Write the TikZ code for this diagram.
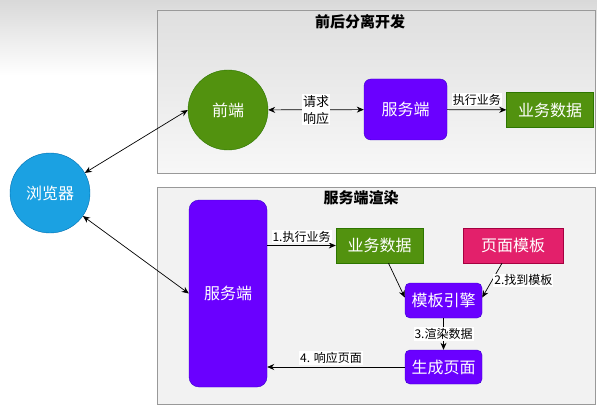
\documentclass[tikz,border=0pt]{standalone}
\usepackage{fontspec}
\setmainfont{Noto Sans CJK SC}
\usetikzlibrary{arrows.meta,positioning,calc}
\definecolor{srvpurple}{HTML}{6A00FF}
\definecolor{srvline}{HTML}{3700CC}
\definecolor{datagreen}{HTML}{52920F}
\definecolor{dataline}{HTML}{2D7600}
\definecolor{webblue}{HTML}{1BA1E2}
\definecolor{webline}{HTML}{006EAF}
\definecolor{tplpink}{HTML}{E3206B}
\definecolor{tplline}{HTML}{A50040}

\begin{document}
\begin{tikzpicture}[x=1pt,y=-1pt,
  panel/.style={draw=gray!80, line width=0.8pt, fill=gray!10},
  title/.style={font=\fontsize{15}{17}\selectfont\bfseries},
  txt/.style={text=white, font=\fontsize{16}{18}\selectfont, inner sep=0pt},
  circ/.style={txt, circle, minimum size=80pt},
  srv/.style={txt, fill=srvpurple, draw=srvline, rounded corners=7pt},
  data/.style={txt, fill=datagreen, draw=dataline, minimum width=87pt, minimum height=35pt},
  lbl/.style={fill=white, inner sep=1pt, font=\fontsize{12}{14}\selectfont, align=center},
  link/.style={line width=0.7pt, -{Stealth[length=7pt,width=6pt]}},
  both/.style={link, {Stealth[length=7pt,width=6pt]}-{Stealth[length=7pt,width=6pt]}}]
\useasboundingbox (0,0) rectangle (597,409);
\shade[top color=gray!30, bottom color=white] (0,0) rectangle (597,75);

\node[panel, top color=gray!25, bottom color=gray!6, minimum width=438pt, minimum height=163pt] (sepbox) at (376,91.5) {};
\node[title] (septitle) at (360,22) {前后分离开发};
\node[circ, fill=datagreen, draw=dataline] (front) at (228,110) {前端};
\node[srv, minimum width=83pt, minimum height=61pt] (srvtop) at (405.5,109.5) {服务端};
\node[data] (datatop) at (550,110) {业务数据};
\draw[both] (front) -- (srvtop) node[midway, lbl, font=\fontsize{13}{17}\selectfont] {请求\\响应};
\draw[link] (srvtop) -- (datatop) node[midway, lbl, above=3pt] {执行业务};

\node[circ, fill=webblue, draw=webline] (browser) at (50,193) {浏览器};

\node[panel, minimum width=438pt, minimum height=217pt] (ssrbox) at (376,295.5) {};
\node[title] (ssrtitle) at (361,198) {服务端渲染};
\node[srv, rounded corners=10pt, minimum width=78pt, minimum height=187pt] (srvbig) at (228,293.5) {服务端};
\node[data] (databot) at (379.5,245.5) {业务数据};
\node[txt, fill=tplpink, draw=tplline, minimum width=100pt, minimum height=35pt] (tpl) at (513,245.5) {页面模板};
\node[srv, rounded corners=5pt, minimum width=77pt, minimum height=35pt] (engine) at (443.5,300.5) {模板引擎};
\node[srv, rounded corners=5pt, minimum width=77pt, minimum height=34pt] (page) at (443.5,367) {生成页面};

\draw[both] (browser.30) -- (front.west);
\draw[both] (browser.-35) -- (srvbig.west);

\draw[link] (databot.west -| srvbig.east) -- (databot.west) node[midway, lbl, above=2pt] {1.执行业务};
\draw[link] ([xshift=9pt]databot.south) -- ([yshift=3pt]engine.west);
\draw[link] ([xshift=-11pt]tpl.south) -- ([yshift=3pt]engine.east) node[midway, lbl, anchor=west, xshift=1pt] {2.找到模板};
\draw[link] (engine) -- (page) node[midway, lbl] {3.渲染数据};
\draw[link] (page.west) -- (page.west -| srvbig.east) node[midway, lbl, above=2pt, xshift=-5pt] {4. 响应页面};
\end{tikzpicture}
\end{document}
